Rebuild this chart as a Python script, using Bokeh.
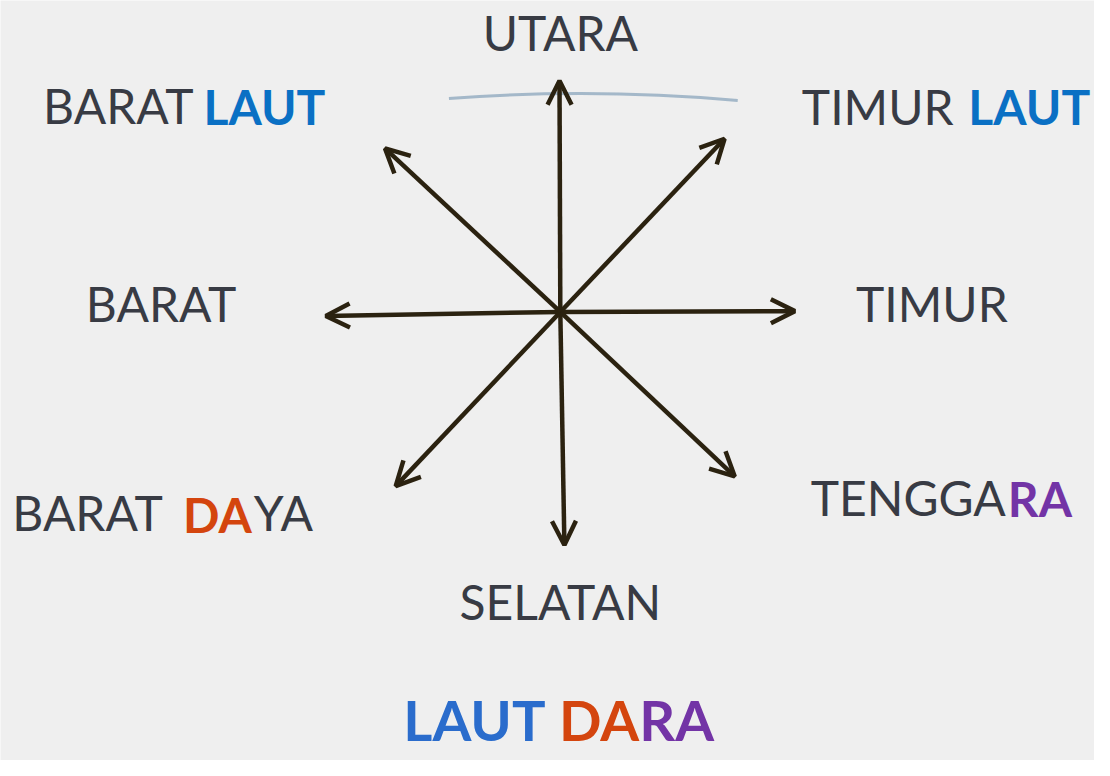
import math
from bokeh.plotting import figure
from bokeh.models import Range1d, Arrow, OpenHead, ColumnDataSource
from bokeh.core.properties import value
from bokeh.embed import file_html
from bokeh.resources import INLINE

# ---- data ----
directions = ["UTARA", "TIMUR LAUT", "TIMUR", "TENGGARA", "SELATAN", "BARAT DAYA", "BARAT", "BARAT LAUT"]
angles_deg = [90.2, 46.7, 0.2, -43.5, -89.0, -133.2, 181.0, 136.8]
arrow_len = [236, 243, 238, 244, 238, 244, 238, 244]

part_text = ["UTARA", "BARAT", "LAUT", "TIMUR", "LAUT", "BARAT", "TIMUR",
             "BARAT", "DA", "YA", "TENGGA", "RA", "SELATAN", "LAUT", "DA", "RA"]
part_color = ["#383b44", "#383b44", "#0a70c4", "#383b44", "#0a70c4", "#383b44", "#383b44",
              "#383b44", "#d4450e", "#383b44", "#383b44", "#7334a6", "#383b44", "#2a6ccc", "#d4450e", "#7334a6"]
part_style = ["normal", "normal", "bold", "normal", "bold", "normal", "normal",
              "normal", "bold", "normal", "normal", "bold", "normal", "bold", "bold", "bold"]

# ---- layout (reference pixel space; y = bottom of capitals) ----
part_x = [568, 196, 206, 967, 982, 163, 945, 12, 255, 257, 1020, 1022, 568, 553, 648, 648]
cap_bottom = [53, 127, 128, 128, 128, 330, 330, 543, 545, 543, 528, 529, 634, 758, 758, 758]
part_align = ["center", "right", "left", "right", "left", "center", "center",
              "left", "right", "left", "right", "left", "center", "right", "right", "left"]
size_px = [48] * 13 + [56] * 3
# Bokeh's svg text sits lower than the requested baseline; compensate
part_y = [b - 0.42 * s for b, s in zip(cap_bottom, size_px)]
part_size = ["%dpx" % s for s in size_px]

cx, cy = 568, 318
DARK = "#2b2210"
BG = "#efefef"

p = figure(width=1094, height=760, output_backend="svg", toolbar_location=None,
           x_range=Range1d(0, 1110), y_range=Range1d(776, 0),
           min_border=0, background_fill_color=BG, border_fill_color=BG)
p.axis.visible = False
p.grid.visible = False
p.outline_line_color = None

# horizon stroke near the north arrow
p.quadratic(x0=[455], y0=[100], x1=[748], y1=[102], cx=[600], cy=[89],
            line_color="#9bb1c4", line_width=3, line_alpha=0.9)

xs_end = [cx + L * math.cos(math.radians(a)) for a, L in zip(angles_deg, arrow_len)]
ys_end = [cy - L * math.sin(math.radians(a)) for a, L in zip(angles_deg, arrow_len)]
asrc = ColumnDataSource(dict(x0=[cx] * len(xs_end), y0=[cy] * len(xs_end), x1=xs_end, y1=ys_end))
p.add_layout(Arrow(source=asrc, x_start="x0", y_start="y0", x_end="x1", y_end="y1",
                   line_color=DARK, line_width=4.5,
                   end=OpenHead(size=24, line_width=4.5, line_color=DARK)))

tsrc = ColumnDataSource(dict(x=part_x, y=part_y, text=part_text, color=part_color,
                             style=part_style, align=part_align, size=part_size))
p.text(x="x", y="y", text="text", source=tsrc, text_color="color", text_font_style="style",
       text_align="align", text_font_size="size", text_baseline="alphabetic",
       text_font=value("Lato"))

html = file_html(p, INLINE)
html = html.replace("<body>", '<body style="background:%s; margin:8px;">' % BG, 1)
open("out.html", "w").write(html)
